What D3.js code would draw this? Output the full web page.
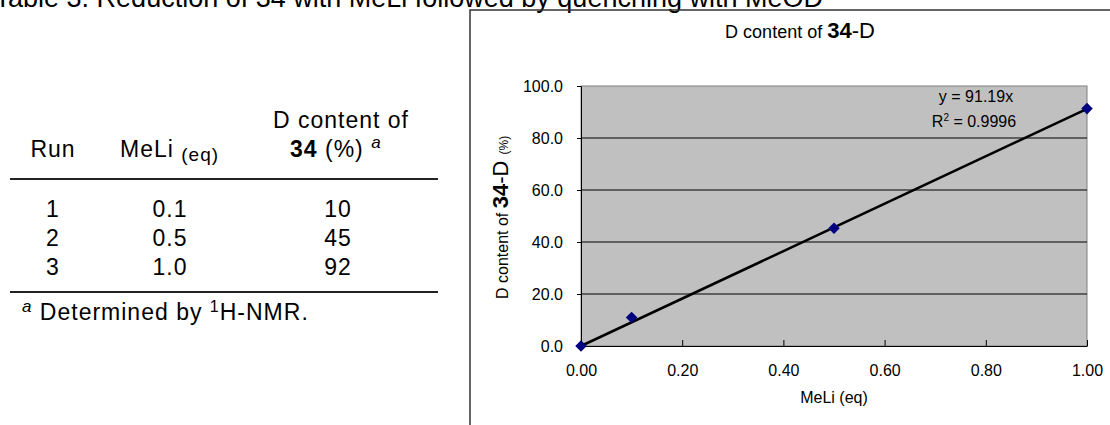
<!DOCTYPE html>
<html>
<head>
<meta charset="utf-8">
<script src="https://cdn.jsdelivr.net/npm/d3@7"></script>
<style>
  body { margin: 0; background: #fff; }
  svg { display: block; font-family: "Liberation Sans", Arial, sans-serif; }
</style>
</head>
<body>
<svg id="fig" width="1110" height="425"></svg>
<script>
// table data
const runs = ['1', '2', '3']
const meliEq = ['0.1', '0.5', '1.0']
const dContent = ['10', '45', '92']

// chart data
const meliX = [0, 0.1, 0.5, 1.0]
const dY = [0, 11, 45.3, 91.3]
const slope = 91.19
const xTicks = [0, 0.2, 0.4, 0.6, 0.8, 1.0]
const yTicks = [0, 20, 40, 60, 80, 100]

const svg = d3.select('#fig')

// caption, cut by the top of the picture
svg.append('text')
  .attr('x', 823).attr('y', 7)
  .attr('text-anchor', 'end')
  .style('font-size', '27px')
  .text('Table 3. Reduction of 34 with MeLi followed by quenching with MeOD')

// ---- table ----
const tbl = svg.append('g').style('font-size', '23px').style('letter-spacing', '1px').attr('fill', '#000')
const colX = [53, 170, 338]

tbl.append('text').attr('x', colX[0]).attr('y', 157).attr('text-anchor', 'middle').text('Run')
let meliHead = tbl.append('text').attr('x', 120).attr('y', 157)
meliHead.append('tspan').text('MeLi ')
meliHead.append('tspan').attr('dy', 4).style('font-size', '19px').text('(eq)')

tbl.append('text').attr('x', 341).attr('y', 128).attr('text-anchor', 'middle').text('D content of')
let pctHead = tbl.append('text').attr('x', 290).attr('y', 157)
pctHead.append('tspan').style('font-weight', 'bold').text('34')
pctHead.append('tspan').text(' (%) ')
pctHead.append('tspan').attr('dy', -9).style('font-size', '17px').style('font-style', 'italic').text('a')

tbl.append('line').attr('x1', 10).attr('x2', 438).attr('y1', 179).attr('y2', 179)
  .attr('stroke', '#222').attr('stroke-width', 2)
tbl.append('line').attr('x1', 10).attr('x2', 438).attr('y1', 292).attr('y2', 292)
  .attr('stroke', '#222').attr('stroke-width', 2)

const rowY = [217, 246, 275]
runs.forEach((r, i) => {
  tbl.append('text').attr('x', colX[0]).attr('y', rowY[i]).attr('text-anchor', 'middle').text(r)
  tbl.append('text').attr('x', colX[1]).attr('y', rowY[i]).attr('text-anchor', 'middle').text(meliEq[i])
  tbl.append('text').attr('x', colX[2]).attr('y', rowY[i]).attr('text-anchor', 'middle').text(dContent[i])
})

let foot = tbl.append('text').attr('x', 22).attr('y', 320)
foot.append('tspan').attr('dy', -8).style('font-size', '17px').style('font-style', 'italic').text('a')
foot.append('tspan').attr('dy', 8).text(' Determined by ')
foot.append('tspan').attr('dy', -8).style('font-size', '16px').text('1')
foot.append('tspan').attr('dy', 8).text('H-NMR.')

// ---- chart ----
svg.append('rect')
  .attr('x', 470).attr('y', 10).attr('width', 700).attr('height', 460)
  .attr('fill', 'none').attr('stroke', '#333').attr('stroke-width', 1.5)

const xScale = d3.scaleLinear().domain([0, 1]).range([581, 1087])
const yScale = d3.scaleLinear().domain([0, 100]).range([346, 86])

svg.append('rect')
  .attr('x', xScale(0)).attr('y', yScale(100))
  .attr('width', xScale(1) - xScale(0)).attr('height', yScale(0) - yScale(100))
  .attr('fill', '#c0c0c0').attr('stroke', '#808080')

// gridlines
svg.append('g').selectAll('line')
  .data(yTicks.filter(d => d > 0 && d < 100))
  .enter().append('line')
  .attr('x1', xScale(0)).attr('x2', xScale(1))
  .attr('y1', d => yScale(d)).attr('y2', d => yScale(d))
  .attr('stroke', '#000').attr('stroke-width', 1)

const yAxis = svg.append('g')
  .attr('transform', `translate(${xScale(0)},0)`)
  .call(d3.axisLeft(yScale).tickValues(yTicks).tickFormat(d3.format('.1f')).tickSize(4).tickPadding(14))
yAxis.selectAll('text').style('font-size', '16px').attr('fill', '#000')
yAxis.select('.domain').attr('stroke', '#000')

const xAxis = svg.append('g')
  .attr('transform', `translate(0,${yScale(0)})`)
  .call(d3.axisBottom(xScale).tickValues(xTicks).tickFormat(d3.format('.2f')).tickSizeInner(-6).tickSizeOuter(0).tickPadding(19))
xAxis.selectAll('text').style('font-size', '16px').attr('fill', '#000')
xAxis.select('.domain').attr('stroke', '#000')

// trendline y = 91.19x
svg.append('line')
  .attr('x1', xScale(0)).attr('y1', yScale(0))
  .attr('x2', xScale(1)).attr('y2', yScale(slope))
  .attr('stroke', '#000').attr('stroke-width', 2.5)

svg.append('g').selectAll('path')
  .data(meliX.map((x, i) => ({ x: x, y: dY[i] })))
  .enter().append('path')
  .attr('d', d3.symbol(d3.symbolDiamond2, 85))
  .attr('transform', d => `translate(${xScale(d.x)},${yScale(d.y)})`)
  .attr('fill', '#000080')

// titles
let title = svg.append('text').attr('x', 800).attr('y', 38).attr('text-anchor', 'middle')
title.append('tspan').style('font-size', '18px').text('D content of ')
title.append('tspan').style('font-size', '22px').style('font-weight', 'bold').text('34')
title.append('tspan').style('font-size', '22px').text('-D')

svg.append('text').attr('x', 834).attr('y', 403).attr('text-anchor', 'middle')
  .style('font-size', '16px').text('MeLi (eq)')

let ylab = svg.append('text')
  .attr('transform', 'translate(508,299) rotate(-90)')
ylab.append('tspan').style('font-size', '16px').text('D content of ')
ylab.append('tspan').style('font-size', '22px').style('font-weight', 'bold').text('34')
ylab.append('tspan').style('font-size', '22px').text('-D ')
ylab.append('tspan').style('font-size', '12px').text('(%)')

// equation label
svg.append('text').attr('x', 976).attr('y', 102).attr('text-anchor', 'middle')
  .style('font-size', '16px').text(`y = ${slope}x`)
let r2 = svg.append('text').attr('x', 974).attr('y', 127).attr('text-anchor', 'middle').style('font-size', '16px')
r2.append('tspan').text('R')
r2.append('tspan').attr('dy', -6).style('font-size', '10px').text('2')
r2.append('tspan').attr('dy', 6).text(' = 0.9996')
</script>
</body>
</html>
